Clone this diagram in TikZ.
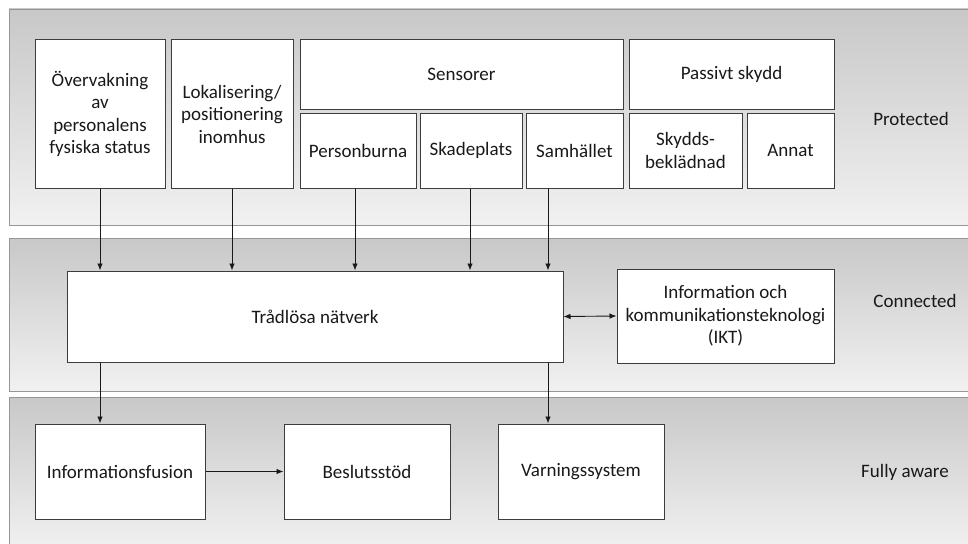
\documentclass[tikz,border=0pt]{standalone}
\usepackage{fontspec}
\setmainfont{Carlito}
\usepackage{tikz}
\usetikzlibrary{arrows.meta}

\definecolor{bandtop}{RGB}{200,200,200}
\definecolor{bandbot}{RGB}{241,241,241}
\definecolor{bandline}{RGB}{150,150,150}
\definecolor{boxline}{RGB}{60,60,60}
\definecolor{textcol}{RGB}{25,25,25}

\begin{document}
\begin{tikzpicture}[x=1pt,y=-1pt,->,>={Latex[length=7pt,width=5.5pt]},line width=0.9pt,
                    band/.style={draw=bandline,top color=bandtop,bottom color=bandbot},
                    box/.style={draw=boxline,line width=1pt,fill=white,align=center,inner sep=0pt,text=textcol,
                                font=\fontsize{19}{22.5}\selectfont},
                    level/.style={text=textcol,font=\fontsize{19}{22.5}\selectfont}]
                    \useasboundingbox (0,0) rectangle (968,543);
                    % the three levels
                    \path[band,-] (9,9) rectangle (975,225);
                    \path[band,-] (9,238) rectangle (975,391);
                    \path[band,-] (9,397) rectangle (975,550);
                    \node[level] (prot) at (911,119) {Protected};
                    \node[level] (conn) at (915,301) {Connected};
                    \node[level] (aware) at (905,472) {Fully aware};

                    % protected
                    \node[box,minimum width=130pt,minimum height=148pt] (ovr) at (100,114)
                        {Övervakning\\av\\personalens\\fysiska status};
                    \node[box,minimum width=122pt,minimum height=148pt] (lok) at (232,114)
                        {Lokalisering/\\positionering\\inomhus};
                    \node[box,minimum width=323pt,minimum height=69pt] (sens) at (461.5,74.5) {Sensorer};
                    \node[box,minimum width=116pt,minimum height=75pt] (pers) at (358,150.5) {Personburna};
                    \node[box,minimum width=102pt,minimum height=75pt] (skad) at (471,150.5) {Skadeplats};
                    \node[box,minimum width=97pt,minimum height=75pt] (samh) at (574.5,150.5) {Samhället};
                    \node[box,minimum width=205pt,minimum height=69pt] (pass) at (731.5,74.5) {Passivt skydd};
                    \node[box,minimum width=113pt,minimum height=75pt] (skyd) at (685.5,150.5) {Skydds-\\beklädnad};
                    \node[box,minimum width=87pt,minimum height=75pt] (anna) at (790.5,150.5) {Annat};

                    % connected
                    \node[box,minimum width=496pt,minimum height=91pt] (trad) at (315,316.5) {Trådlösa nätverk};
                    \node[box,minimum width=217pt,minimum height=94pt] (ikt) at (725.5,316)
                        {Information och\\kommunikationsteknologi\\(IKT)};

                    % fully aware
                    \node[box,minimum width=170pt,minimum height=95pt] (info) at (120,471.5) {Informationsfusion};
                    \node[box,minimum width=166pt,minimum height=95pt] (besl) at (367,471.5) {Beslutsstöd};
                    \node[box,minimum width=166pt,minimum height=95pt] (varn) at (581,471.5) {Varningssystem};

                    \coordinate (samhout) at ([xshift=-26.5pt]samh.south);
                    \path[every edge/.style={draw=textcol}]
                        (ovr.south) edge (ovr.south |- trad.north)
                        (lok.south) edge (lok.south |- trad.north)
                        ([xshift=-3pt]pers.south) edge ([xshift=-3pt]pers.south |- trad.north)
                        ([xshift=-1pt]skad.south) edge ([xshift=-1pt]skad.south |- trad.north)
                        (samhout) edge (samhout |- trad.north)

                        (trad.east) edge [<->] (ikt.west)

                        (ovr.south |- trad.south) edge (ovr.south |- info.north)
                        (samhout |- trad.south) edge (samhout |- varn.north)

                        (info) edge (besl);
                \end{tikzpicture}
\end{document}
